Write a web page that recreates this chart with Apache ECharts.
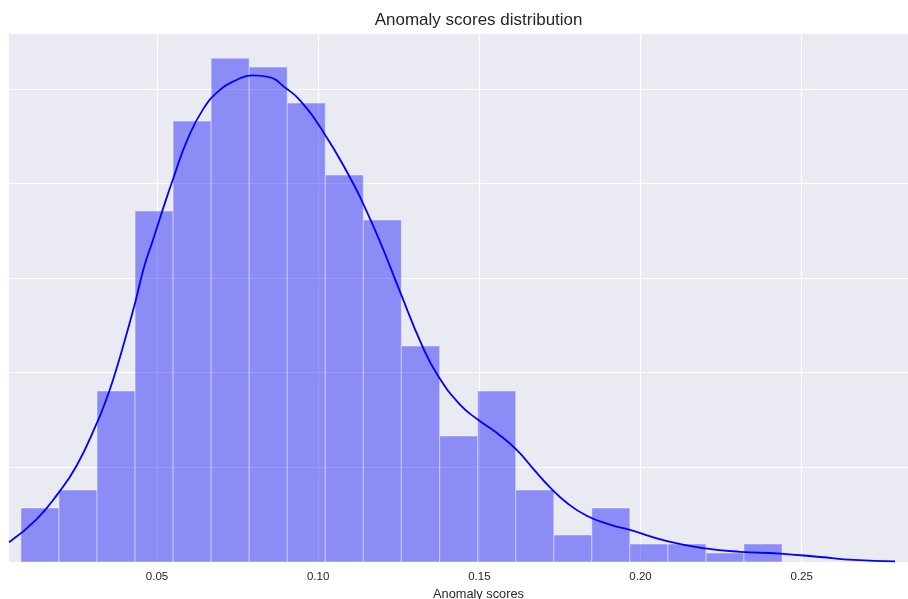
<!DOCTYPE html>
<html>
<head>
<meta charset="utf-8">
<script src="https://cdn.jsdelivr.net/npm/echarts@6/dist/echarts.min.js"></script>
<style>
html,body{margin:0;padding:0;background:#fff;}
#chart{width:908px;height:599px;}
</style>
</head>
<body>
<div id="chart"></div>
<script>
// Histogram bin edges (Anomaly score)
const binEdges = [0.0078, 0.0196, 0.0314, 0.0432, 0.0550, 0.0668, 0.0786, 0.0904, 0.1022, 0.1140,
  0.1258, 0.1377, 0.1495, 0.1613, 0.1731, 0.1849, 0.1967, 0.2085, 0.2203, 0.2321, 0.2439];
// Histogram heights (density)
const binDensity = [1.141, 1.521, 3.613, 7.416, 9.318, 10.649, 10.459, 9.698, 8.177, 7.226,
  4.564, 2.662, 3.613, 1.521, 0.570, 1.141, 0.380, 0.380, 0.190, 0.380];
// KDE curve points
const kdeX = [0.00410, 0.01247, 0.01939, 0.02510, 0.03130, 0.03419, 0.03645, 0.03906, 0.04318, 0.04598,
  0.04877, 0.05280, 0.05506, 0.05922, 0.06428, 0.06955, 0.07452, 0.07948, 0.08444, 0.09024,
  0.09437, 0.10160, 0.10988, 0.11401, 0.11919, 0.12539, 0.13212, 0.13727, 0.14401, 0.14919,
  0.15539, 0.16160, 0.16674, 0.17193, 0.17711, 0.18331, 0.19054, 0.19674, 0.20822, 0.22001,
  0.23087, 0.24328, 0.25569, 0.26623, 0.27895];
const kdeY = [0.417, 0.891, 1.456, 2.040, 2.929, 3.420, 3.869, 4.455, 5.469, 6.231,
  6.806, 7.659, 8.108, 8.889, 9.566, 9.979, 10.182, 10.286, 10.254, 10.000,
  9.757, 9.090, 8.127, 7.564, 6.772, 5.714, 4.593, 3.924, 3.327, 3.026,
  2.730, 2.370, 1.968, 1.579, 1.253, 0.978, 0.789, 0.677, 0.442, 0.290,
  0.216, 0.178, 0.106, 0.044, 0.012];
const xTicks = [0.05, 0.10, 0.15, 0.20, 0.25];

const titleText = 'Anomaly scores distribution';
const xName = 'Anomaly scores';

const histData = binDensity.map((d, i) => [binEdges[i], binEdges[i + 1], d]);
const kdeData = kdeX.map((x, i) => [x, kdeY[i]]);

const FONT = '"Liberation Sans", Arial, sans-serif';
const chart = echarts.init(document.getElementById('chart'), null, {renderer: 'canvas'});
chart.setOption({
  animation: false,
  backgroundColor: '#ffffff',
  title: {
    text: titleText,
    left: 478.6,
    textAlign: 'center',
    top: 12,
    padding: 0,
    textStyle: {fontFamily: FONT, fontSize: 17, fontWeight: 'normal', color: '#262626'}
  },
  grid: {
    left: 9, right: -40, top: 33, bottom: 37,
    show: true, backgroundColor: '#EAEAF2', borderWidth: 0,
    containLabel: false, outerBoundsMode: 'none'
  },
  xAxis: {
    type: 'value',
    min: 0.004095,
    max: 0.29539,
    name: xName,
    nameLocation: 'middle',
    nameGap: 21,
    nameTextStyle: {fontFamily: FONT, fontSize: 12.8, color: '#262626', verticalAlign: 'top'},
    axisLine: {show: false},
    axisTick: {show: false, customValues: xTicks},
    axisLabel: {
      customValues: xTicks,
      margin: 9,
      fontFamily: FONT, fontSize: 11.5, color: '#262626',
      formatter: v => v.toFixed(2)
    },
    splitLine: {show: true, lineStyle: {color: '#ffffff', width: 1.2}}
  },
  yAxis: {
    type: 'value',
    min: 0,
    max: 11.18,
    interval: 2,
    axisLine: {show: false},
    axisTick: {show: false},
    axisLabel: {show: false},
    splitLine: {show: true, lineStyle: {color: '#ffffff', width: 1.2}}
  },
  series: [
    {
      type: 'custom',
      data: histData,
      encode: {x: [0, 1], y: 2},
      renderItem: function (params, api) {
        const p0 = api.coord([api.value(0), api.value(2)]);
        const p1 = api.coord([api.value(1), 0]);
        return {
          type: 'rect',
          shape: {x: p0[0], y: p0[1], width: p1[0] - p0[0], height: p1[1] - p0[1]},
          style: {fill: 'rgba(0,0,255,0.4)', stroke: 'rgba(255,255,255,0.4)', lineWidth: 1}
        };
      },
      z: 2
    },
    {
      type: 'line',
      data: kdeData,
      showSymbol: false,
      smooth: 0.5,
      lineStyle: {color: '#0000FF', width: 1.8},
      z: 3
    }
  ]
});
</script>
</body>
</html>
